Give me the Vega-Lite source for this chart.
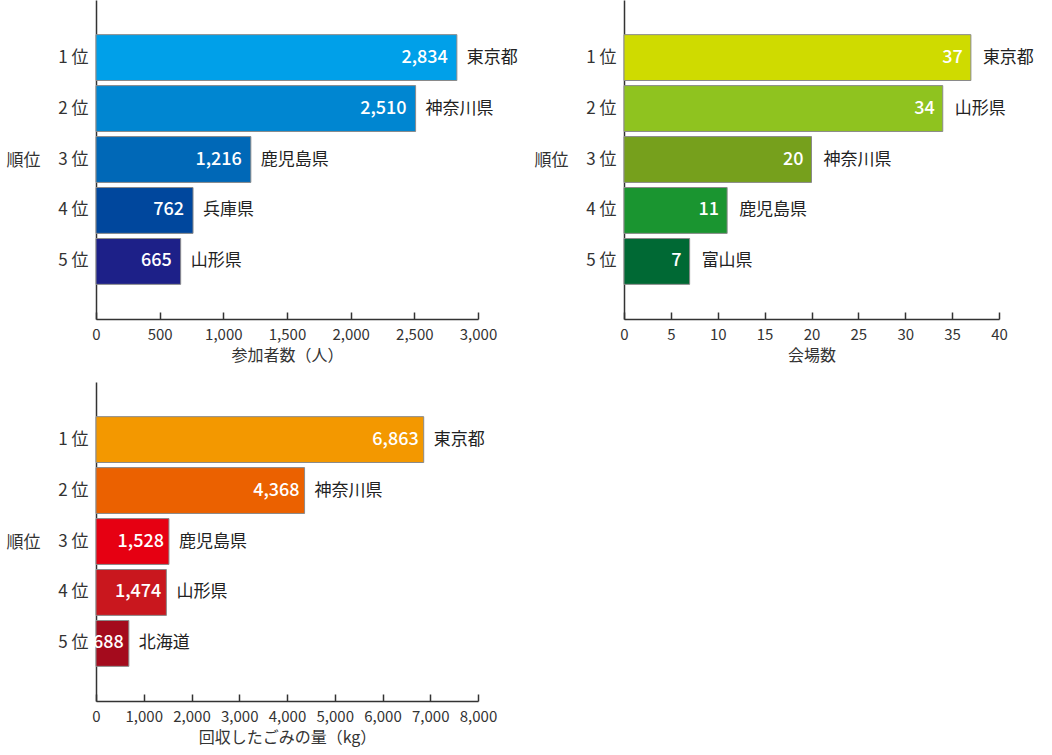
{
  "$schema": "https://vega.github.io/schema/vega-lite/v6.json",
  "padding": {"left": 6, "top": 0, "right": 0, "bottom": 10},
  "background": "white",
  "config": {
    "font": "Noto Sans CJK JP",
    "view": {"stroke": null},
    "axis": {"grid": false, "domainColor": "#333", "domainWidth": 1.5, "labelColor": "#333", "titleColor": "#333", "labelFont": "Noto Sans CJK JP", "titleFont": "Noto Sans CJK JP", "titleFontWeight": "normal"},
    "axisX": {"tickColor": "#333", "tickSize": -7, "tickWidth": 1.5, "labelFontSize": 15, "labelPadding": 15, "labelFlush": false, "titleFontSize": 16, "titlePadding": 5},
    "axisY": {"ticks": false, "labelFontSize": 17, "labelPadding": 8, "titleFontSize": 17, "titleAngle": 0, "titleAlign": "right", "titleBaseline": "middle", "titleX": -56, "titleY": 160}
  },
  "datasets": {
    "participants": [
      {"rank": "1 位", "pref": "東京都", "value": 2834},
      {"rank": "2 位", "pref": "神奈川県", "value": 2510},
      {"rank": "3 位", "pref": "鹿児島県", "value": 1216},
      {"rank": "4 位", "pref": "兵庫県", "value": 762},
      {"rank": "5 位", "pref": "山形県", "value": 665}
    ],
    "venues": [
      {"rank": "1 位", "pref": "東京都", "value": 37},
      {"rank": "2 位", "pref": "山形県", "value": 34},
      {"rank": "3 位", "pref": "神奈川県", "value": 20},
      {"rank": "4 位", "pref": "鹿児島県", "value": 11},
      {"rank": "5 位", "pref": "富山県", "value": 7}
    ],
    "garbage": [
      {"rank": "1 位", "pref": "東京都", "value": 6863},
      {"rank": "2 位", "pref": "神奈川県", "value": 4368},
      {"rank": "3 位", "pref": "鹿児島県", "value": 1528},
      {"rank": "4 位", "pref": "山形県", "value": 1474},
      {"rank": "5 位", "pref": "北海道", "value": 688}
    ]
  },
  "columns": 2,
  "bounds": "flush",
  "spacing": {"column": 146, "row": 63},
  "resolve": {"scale": {"color": "independent", "x": "independent", "y": "independent"}},
  "concat": [
    {
      "width": 382, "height": 319,
      "data": {"name": "participants"},
      "encoding": {
        "y": {"field": "rank", "type": "nominal", "sort": "ascending", "title": "順位", "scale": {"paddingInner": 0.1, "paddingOuter": 0.68}},
        "x": {"field": "value", "type": "quantitative", "title": "参加者数（人）", "scale": {"domain": [0, 3000], "nice": false}, "axis": {"values": [0, 500, 1000, 1500, 2000, 2500, 3000], "format": ",d"}}
      },
      "layer": [
        {"mark": {"type": "bar", "stroke": "#8a8a8a", "strokeWidth": 1}, "encoding": {"color": {"field": "rank", "type": "nominal", "legend": null, "scale": {"range": ["#00A0E9", "#0086D1", "#0068B7", "#00479D", "#1D2088"]}}}},
        {"mark": {"type": "text", "align": "right", "baseline": "middle", "dx": -9, "color": "white", "fontSize": 18, "fontWeight": 500}, "encoding": {"text": {"field": "value", "type": "quantitative", "format": ",d"}}},
        {"mark": {"type": "text", "align": "left", "baseline": "middle", "dx": 10, "color": "#222", "fontSize": 17}, "encoding": {"text": {"field": "pref"}}}
      ]
    },
    {
      "width": 375, "height": 319,
      "data": {"name": "venues"},
      "encoding": {
        "y": {"field": "rank", "type": "nominal", "sort": "ascending", "title": "順位", "scale": {"paddingInner": 0.1, "paddingOuter": 0.68}},
        "x": {"field": "value", "type": "quantitative", "title": "会場数", "scale": {"domain": [0, 40], "nice": false}, "axis": {"values": [0, 5, 10, 15, 20, 25, 30, 35, 40], "format": "d"}}
      },
      "layer": [
        {"mark": {"type": "bar", "stroke": "#8a8a8a", "strokeWidth": 1}, "encoding": {"color": {"field": "rank", "type": "nominal", "legend": null, "scale": {"range": ["#CFDB00", "#8FC31F", "#76A01C", "#1A9530", "#006934"]}}}},
        {"mark": {"type": "text", "align": "right", "baseline": "middle", "dx": -8, "color": "white", "fontSize": 18, "fontWeight": 500}, "encoding": {"text": {"field": "value", "type": "quantitative", "format": "d"}}},
        {"mark": {"type": "text", "align": "left", "baseline": "middle", "dx": 12, "color": "#222", "fontSize": 17}, "encoding": {"text": {"field": "pref"}}}
      ]
    },
    {
      "width": 382, "height": 319,
      "data": {"name": "garbage"},
      "encoding": {
        "y": {"field": "rank", "type": "nominal", "sort": "ascending", "title": "順位", "scale": {"paddingInner": 0.1, "paddingOuter": 0.68}},
        "x": {"field": "value", "type": "quantitative", "title": "回収したごみの量（kg）", "scale": {"domain": [0, 8000], "nice": false}, "axis": {"values": [0, 1000, 2000, 3000, 4000, 5000, 6000, 7000, 8000], "format": ",d"}}
      },
      "layer": [
        {"mark": {"type": "bar", "stroke": "#8a8a8a", "strokeWidth": 1}, "encoding": {"color": {"field": "rank", "type": "nominal", "legend": null, "scale": {"range": ["#F39800", "#EB6100", "#E60012", "#C9171E", "#A40B1D"]}}}},
        {"mark": {"type": "text", "align": "right", "baseline": "middle", "dx": -5, "color": "white", "fontSize": 18, "fontWeight": 500}, "encoding": {"text": {"field": "value", "type": "quantitative", "format": ",d"}}},
        {"mark": {"type": "text", "align": "left", "baseline": "middle", "dx": 10, "color": "#222", "fontSize": 17}, "encoding": {"text": {"field": "pref"}}}
      ]
    }
  ]
}
